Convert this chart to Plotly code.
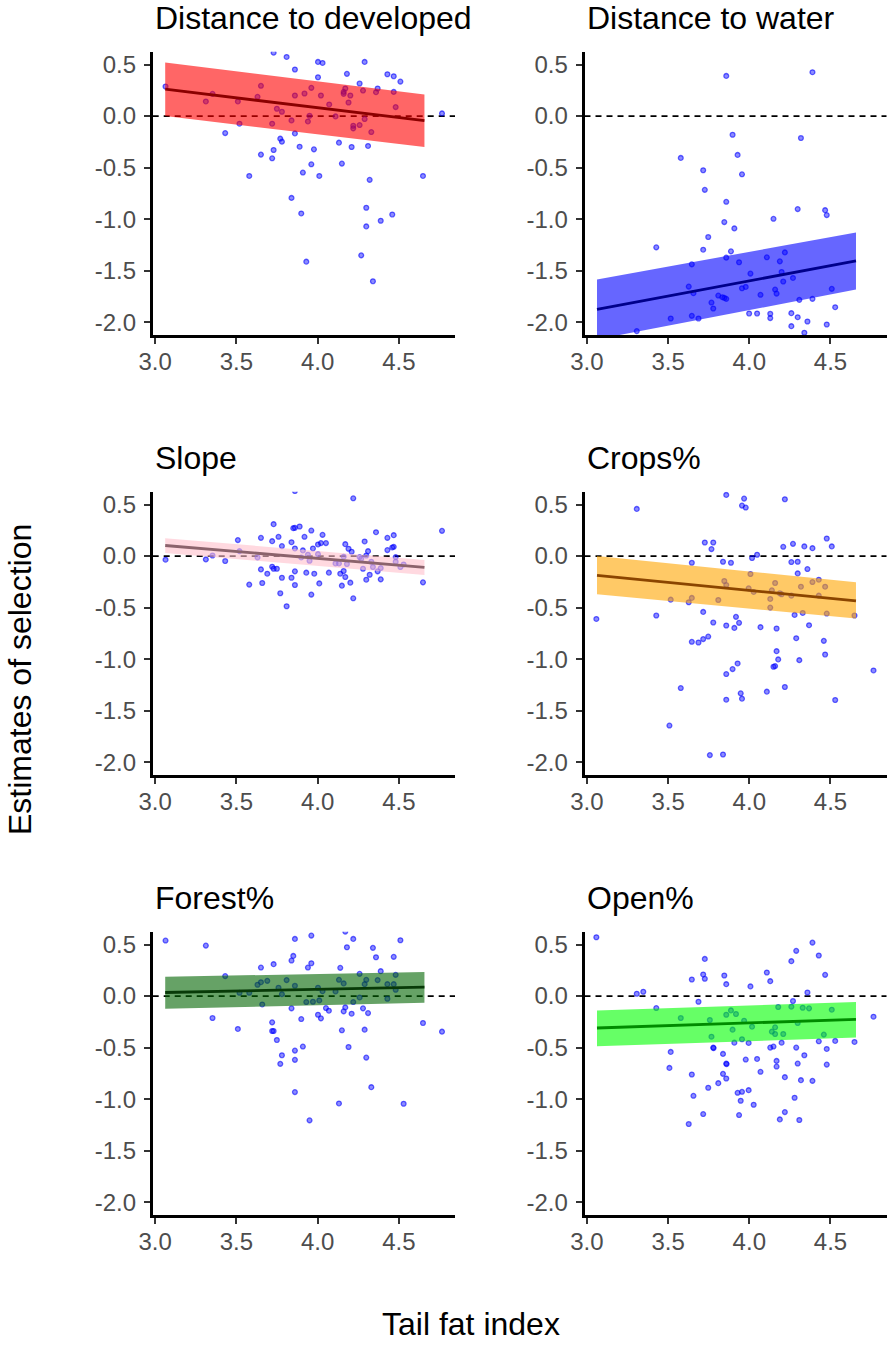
import plotly.graph_objects as go

# ---------------------------------------------------------------- data
panel_titles = ["Distance to developed", "Distance to water", "Slope",
                "Crops%", "Forest%", "Open%"]

x_ticks = [3.0, 3.5, 4.0, 4.5]
x_tick_text = ["3.0", "3.5", "4.0", "4.5"]
y_ticks = [-2.0, -1.5, -1.0, -0.5, 0.0, 0.5]
y_tick_text = ["-2.0", "-1.5", "-1.0", "-0.5", "0.0", "0.5"]

developed_x = [3.064, 3.312, 3.353, 3.431, 3.509, 3.519, 3.579, 3.630, 3.651, 3.651,
               3.720, 3.720, 3.729, 3.729, 3.749, 3.770, 3.780, 3.780, 3.809, 3.839,
               3.839, 3.860, 3.860, 3.860, 3.889, 3.899, 3.909, 3.919, 3.930, 3.940,
               3.950, 3.961, 3.961, 3.977, 4.002, 4.002, 4.010, 4.020, 4.030, 4.071,
               4.110, 4.131, 4.149, 4.160, 4.160, 4.170, 4.180, 4.190, 4.201, 4.209,
               4.219, 4.219, 4.258, 4.258, 4.268, 4.279, 4.289, 4.289, 4.299, 4.299,
               4.310, 4.320, 4.330, 4.340, 4.359, 4.369, 4.388, 4.429, 4.459, 4.468,
               4.468, 4.480, 4.509, 4.648, 4.765]
developed_y = [0.287, 0.142, 0.216, -0.165, 0.142, -0.074, -0.581, 0.187, 0.294, -0.374,
               -0.074, -0.410, -0.329, 0.616, 0.071, -0.219, 0.042, -0.248, 0.574, -0.042,
               -0.794, 0.452, 0.200, -0.168, -0.297, -0.945, -0.548, 0.219, -1.413, -0.052,
               0.003, 0.274, -0.468, -0.323, 0.377, 0.526, -0.581, 0.200, 0.516, 0.113,
               -0.003, -0.258, -0.461, 0.235, 0.216, 0.268, 0.410, 0.132, 0.200, -0.300,
               -0.094, -0.119, 0.316, -0.087, -1.352, 0.248, 0.526, -0.029, -0.890, -1.071,
               -0.290, -0.619, -0.155, -1.603, 0.232, 0.268, -1.016, 0.406, -0.955, 0.387,
               0.235, 0.087, 0.335, -0.581, 0.026]

water_x = [3.307, 3.427, 3.516, 3.578, 3.627, 3.646, 3.646, 3.656, 3.687, 3.716,
           3.716, 3.726, 3.747, 3.767, 3.778, 3.809, 3.834, 3.846, 3.846, 3.858,
           3.858, 3.858, 3.858, 3.887, 3.897, 3.908, 3.928, 3.937, 3.955, 3.955,
           3.978, 3.999, 4.007, 4.048, 4.069, 4.108, 4.129, 4.129, 4.149, 4.159,
           4.168, 4.188, 4.199, 4.209, 4.219, 4.259, 4.259, 4.269, 4.298, 4.298,
           4.308, 4.318, 4.339, 4.358, 4.389, 4.389, 4.467, 4.477, 4.477, 4.508,
           4.529]
water_y = [-2.087, -1.274, -1.965, -0.406, -1.655, -1.939, -1.439, -1.719, -1.965, -0.526,
           -1.297, -0.716, -1.174, -1.810, -1.868, -1.742, -1.758, -1.029, -1.765, -0.832,
           -1.374, -1.774, 0.390, -1.313, -0.181, -1.090, -0.377, -1.419, -0.565, -1.671,
           -1.658, -1.916, -1.529, -1.916, -1.735, -1.371, -1.919, -1.961, -0.997, -1.684,
           -1.723, -1.410, -1.513, -1.606, -1.323, -1.913, -2.039, -1.571, -0.903, -1.952,
           -1.784, -0.213, -2.103, -1.994, 0.426, -1.774, -0.913, -0.961, -2.023, -1.677,
           -1.855]

slope_x = [3.064, 3.312, 3.353, 3.431, 3.509, 3.519, 3.579, 3.630, 3.651, 3.651,
           3.659, 3.690, 3.720, 3.720, 3.729, 3.729, 3.749, 3.759, 3.770, 3.780,
           3.780, 3.809, 3.839, 3.839, 3.850, 3.860, 3.860, 3.860, 3.860, 3.860,
           3.889, 3.909, 3.899, 3.919, 3.930, 3.940, 3.950, 3.961, 3.961, 3.971,
           3.979, 4.002, 4.002, 4.010, 4.020, 4.030, 4.051, 4.069, 4.110, 4.131,
           4.139, 4.149, 4.160, 4.160, 4.170, 4.170, 4.180, 4.190, 4.201, 4.209,
           4.219, 4.219, 4.258, 4.268, 4.279, 4.289, 4.299, 4.299, 4.310, 4.320,
           4.330, 4.340, 4.359, 4.369, 4.388, 4.388, 4.429, 4.429, 4.459, 4.468,
           4.468, 4.480, 4.480, 4.509, 4.529, 4.648, 4.765]
slope_y = [-0.035, -0.032, 0.006, -0.048, 0.155, 0.048, -0.277, -0.013, 0.177, -0.129,
           -0.261, -0.171, 0.145, -0.103, 0.310, -0.123, -0.123, 0.187, -0.361, 0.097,
           -0.210, -0.487, 0.135, -0.210, 0.271, 0.274, 0.074, -0.148, -0.281, 0.632,
           0.287, 0.055, -0.013, 0.187, -0.161, 0.013, -0.045, 0.248, -0.374, 0.074,
           -0.171, 0.113, 0.019, -0.265, 0.126, 0.206, 0.126, -0.161, -0.071, -0.071,
           -0.171, -0.287, -0.006, -0.145, 0.116, -0.203, -0.077, 0.071, -0.258, 0.042,
           0.561, -0.410, -0.010, -0.026, -0.123, 0.142, 0.006, -0.229, 0.048, -0.181,
           -0.055, -0.106, 0.232, -0.148, -0.116, -0.226, 0.058, 0.177, 0.084, 0.203,
           0.090, -0.010, -0.055, -0.106, -0.081, -0.255, 0.245]

crops_x = [3.058, 3.307, 3.427, 3.508, 3.516, 3.578, 3.627, 3.646, 3.646, 3.646,
           3.687, 3.716, 3.716, 3.726, 3.747, 3.757, 3.767, 3.778, 3.778, 3.809,
           3.838, 3.838, 3.846, 3.858, 3.858, 3.858, 3.858, 3.858, 3.887, 3.897,
           3.908, 3.918, 3.928, 3.937, 3.947, 3.955, 3.955, 3.968, 3.978, 3.996,
           4.007, 4.017, 4.027, 4.048, 4.069, 4.108, 4.129, 4.129, 4.139, 4.149,
           4.159, 4.159, 4.168, 4.168, 4.178, 4.188, 4.199, 4.209, 4.219, 4.219,
           4.259, 4.259, 4.269, 4.279, 4.289, 4.298, 4.298, 4.308, 4.318, 4.329,
           4.339, 4.358, 4.368, 4.389, 4.389, 4.428, 4.428, 4.459, 4.467, 4.467,
           4.477, 4.477, 4.508, 4.529, 4.648, 4.765]
crops_y = [-0.610, 0.458, -0.577, -1.645, -0.423, -1.281, -0.448, -0.065, -0.406, -0.832,
           -0.839, -0.542, -0.806, 0.132, -0.781, -1.932, 0.068, 0.132, -0.645, -0.426,
           -0.055, -1.926, -0.242, -0.281, 0.594, -0.674, -1.145, -1.394, -0.065, -1.097,
           -0.697, -0.590, -1.042, -0.648, -1.332, 0.490, -1.384, 0.558, 0.471, -0.313,
           -0.174, -0.019, -0.348, 0.013, -0.690, -1.316, -0.416, -0.500, -0.332, -1.074,
           -0.261, -1.068, -0.703, -0.923, -1.003, -0.361, -0.371, 0.090, 0.552, -1.271,
           -0.058, -0.384, 0.119, -0.571, -0.797, -0.055, -0.168, -1.010, -0.297, -0.552,
           0.094, -0.126, -0.671, -0.252, 0.077, -0.229, -0.384, -0.823, -0.297, -0.955,
           0.171, -0.558, 0.094, -1.397, -0.577, -1.110]

forest_x = [3.064, 3.312, 3.353, 3.431, 3.509, 3.519, 3.579, 3.630, 3.651, 3.651,
            3.659, 3.690, 3.720, 3.720, 3.729, 3.729, 3.749, 3.759, 3.770, 3.780,
            3.780, 3.809, 3.839, 3.850, 3.839, 3.860, 3.860, 3.860, 3.860, 3.860,
            3.899, 3.909, 3.930, 3.940, 3.950, 3.961, 3.961, 3.971, 4.002, 4.002,
            4.010, 4.020, 4.030, 4.051, 4.069, 4.110, 4.131, 4.131, 4.139, 4.149,
            4.160, 4.160, 4.170, 4.170, 4.180, 4.190, 4.209, 4.219, 4.219, 4.258,
            4.258, 4.279, 4.289, 4.289, 4.299, 4.299, 4.310, 4.330, 4.340, 4.359,
            4.369, 4.388, 4.429, 4.429, 4.468, 4.468, 4.480, 4.480, 4.509, 4.529,
            4.648, 4.765]
forest_y = [0.539, 0.490, -0.213, 0.194, -0.319, 0.032, 0.032, 0.110, 0.135, 0.277,
            -0.081, 0.148, -0.255, -0.339, -0.339, 0.310, -0.426, 0.081, -0.658, 0.019,
            -0.574, 0.155, 0.345, 0.390, -0.119, 0.555, 0.100, -0.529, -0.619, -0.932,
            -0.223, -0.490, -0.058, 0.277, -1.206, 0.319, 0.587, -0.055, 0.081, -0.181,
            -0.042, -0.216, 0.048, -0.116, -0.142, 0.045, -1.042, 0.158, 0.274, -0.332,
            0.123, -0.148, -0.110, 0.626, 0.474, -0.494, -0.171, 0.555, -0.058, 0.216,
            -0.013, -0.119, -0.326, 0.116, 0.158, -0.597, -0.165, -0.884, 0.468, 0.377,
            0.155, 0.242, -0.026, 0.116, 0.381, 0.116, 0.206, 0.061, 0.542, -1.045,
            -0.261, -0.345]

open_x = [3.058, 3.307, 3.347, 3.427, 3.508, 3.516, 3.578, 3.627, 3.646, 3.646,
          3.656, 3.687, 3.716, 3.716, 3.726, 3.726, 3.747, 3.757, 3.767, 3.778,
          3.780, 3.809, 3.838, 3.838, 3.846, 3.858, 3.858, 3.858, 3.860, 3.858,
          3.887, 3.897, 3.908, 3.918, 3.928, 3.937, 3.947, 3.955, 3.955, 3.968,
          3.978, 3.996, 3.996, 4.007, 4.017, 4.027, 4.048, 4.069, 4.108, 4.129,
          4.129, 4.149, 4.139, 4.159, 4.159, 4.168, 4.168, 4.178, 4.188, 4.199,
          4.209, 4.219, 4.219, 4.259, 4.259, 4.269, 4.279, 4.289, 4.289, 4.298,
          4.298, 4.308, 4.318, 4.329, 4.339, 4.358, 4.368, 4.389, 4.389, 4.428,
          4.428, 4.459, 4.467, 4.477, 4.477, 4.508, 4.529, 4.648, 4.765]
open_y = [0.571, 0.023, 0.042, -0.116, -0.697, -0.542, -0.213, -1.242, 0.161, -0.761,
          -0.968, -0.055, 0.210, -1.145, 0.361, 0.168, -0.890, -0.232, -0.394, -0.500,
          -0.505, -0.845, -0.561, -0.755, 0.200, 0.116, -0.181, -0.655, -0.660, -0.800,
          -0.139, -0.326, -0.452, -0.174, -0.939, -1.155, -1.016, -0.929, -0.419, -0.239,
          -0.616, -0.913, -0.455, 0.094, -0.297, -1.055, -0.610, -0.735, 0.229, 0.145,
          -0.500, -0.490, -0.345, -0.303, -0.368, -0.629, -0.684, -0.106, -1.197, -0.452,
          -0.368, -0.787, -1.126, 0.339, -0.103, -0.048, -0.987, 0.439, -0.500, -0.655,
          -0.261, -1.203, -0.816, -0.113, -0.574, 0.035, -0.119, 0.519, -0.823, 0.394,
          -0.439, -0.374, 0.206, -0.513, -0.665, -0.132, -0.435, -0.445, -0.200]

# fitted trend (end points) with its confidence band
fit_x = [3.062, 4.657]
developed_fit = [0.261, -0.045]
developed_lo = [0.000, -0.300]
developed_hi = [0.519, 0.210]
water_fit = [-1.877, -1.406]
water_lo = [-2.167, -1.684]
water_hi = [-1.587, -1.129]
slope_fit = [0.103, -0.110]
slope_lo = [0.029, -0.184]
slope_hi = [0.174, -0.039]
crops_fit = [-0.187, -0.435]
crops_lo = [-0.371, -0.606]
crops_hi = [0.000, -0.255]
forest_fit = [0.035, 0.087]
forest_lo = [-0.123, -0.065]
forest_hi = [0.187, 0.235]
open_fit = [-0.310, -0.226]
open_lo = [-0.487, -0.403]
open_hi = [-0.139, -0.058]

# ---------------------------------------------------------------- styling
W, H = 889, 1345
FONT = "Liberation Sans, Arial, Helvetica, sans-serif"

panels = [
    dict(px=developed_x, py=developed_y, fit=developed_fit, lo=developed_lo, hi=developed_hi,
         band="rgba(255,0,0,0.6)", line="#8B0000"),
    dict(px=water_x, py=water_y, fit=water_fit, lo=water_lo, hi=water_hi,
         band="rgba(0,0,255,0.6)", line="#00008B"),
    dict(px=slope_x, py=slope_y, fit=slope_fit, lo=slope_lo, hi=slope_hi,
         band="rgba(255,192,203,0.6)", line="#8B636C"),
    dict(px=crops_x, py=crops_y, fit=crops_fit, lo=crops_lo, hi=crops_hi,
         band="rgba(255,165,0,0.6)", line="#8B4500"),
    dict(px=forest_x, py=forest_y, fit=forest_fit, lo=forest_lo, hi=forest_hi,
         band="rgba(0,100,0,0.6)", line="#083A08"),
    dict(px=open_x, py=open_y, fit=open_fit, lo=open_lo, hi=open_hi,
         band="rgba(0,255,0,0.6)", line="#008B00"),
]

# panel boxes in pixels (left, right) / (top, bottom)
col_px = [(152.7, 455.0), (584.5, 886.5)]
row_px = [(51.7, 335.0), (491.7, 775.0), (931.7, 1215.0)]
x_range = [2.985, 4.845]
y_range = [-2.125, 0.625]

fig = go.Figure()
layout = dict(
    width=W, height=H,
    margin=dict(l=0, r=0, t=0, b=0, autoexpand=False),
    paper_bgcolor="white", plot_bgcolor="white",
    showlegend=False,
    font=dict(family=FONT, color="black"),
)
shapes = []
annotations = []

for i, p in enumerate(panels):
    n = i + 1
    suffix = "" if n == 1 else str(n)
    xa, ya = "x" + suffix, "y" + suffix
    r, c = divmod(i, 2)
    (l, rt), (t, b) = col_px[c], row_px[r]

    # zero reference
    shapes.append(dict(type="line", xref=xa + " domain", yref=ya, x0=0, x1=1, y0=0, y1=0,
                       line=dict(color="black", width=1.7, dash="6px,5px"), layer="below"))

    # individual estimates
    fig.add_trace(go.Scatter(
        x=p["px"], y=p["py"], mode="markers", xaxis=xa, yaxis=ya,
        marker=dict(size=4.8, color="rgba(0,0,255,0.45)",
                    line=dict(width=1.3, color="rgba(0,0,255,0.6)")),
        hoverinfo="skip"))

    # confidence band
    bx = fit_x + fit_x[::-1]
    by = p["hi"] + p["lo"][::-1]
    fig.add_trace(go.Scatter(
        x=bx, y=by, mode="lines", fill="toself", fillcolor=p["band"],
        line=dict(width=0), xaxis=xa, yaxis=ya, hoverinfo="skip"))

    # fitted line
    fig.add_trace(go.Scatter(
        x=fit_x, y=p["fit"], mode="lines", line=dict(color=p["line"], width=2.8),
        xaxis=xa, yaxis=ya, hoverinfo="skip"))

    axis_common = dict(
        showgrid=False, zeroline=False, showline=True, linecolor="black", linewidth=2.6,
        ticks="outside", ticklen=6, tickwidth=2.2, tickcolor="#333333",
        tickfont=dict(family=FONT, size=24, color="#4D4D4D"),
        automargin=False,
    )
    layout["xaxis" + suffix] = dict(
        axis_common, domain=[l / W, rt / W], range=x_range, anchor=ya,
        tickvals=x_ticks, ticktext=x_tick_text, ticklabelstandoff=-3)
    layout["yaxis" + suffix] = dict(
        axis_common, domain=[1 - b / H, 1 - t / H], range=y_range, anchor=xa,
        tickvals=y_ticks, ticktext=y_tick_text, ticklabelstandoff=3)

    annotations.append(dict(
        text=panel_titles[i], xref="paper", yref="paper",
        x=l / W, y=1 - (t - 14) / H, xanchor="left", yanchor="bottom",
        showarrow=False, font=dict(family=FONT, size=32, color="black")))

annotations.append(dict(
    text="Estimates of selection", xref="paper", yref="paper",
    x=20 / W, y=1 - 680 / H, xanchor="center", yanchor="middle", textangle=-90,
    showarrow=False, font=dict(family=FONT, size=32, color="black")))
annotations.append(dict(
    text="Tail fat index", xref="paper", yref="paper",
    x=471 / W, y=1 - 1324 / H, xanchor="center", yanchor="middle",
    showarrow=False, font=dict(family=FONT, size=32, color="black")))

layout["shapes"] = shapes
layout["annotations"] = annotations
fig.update_layout(**layout)

fig.write_html("out.html")
